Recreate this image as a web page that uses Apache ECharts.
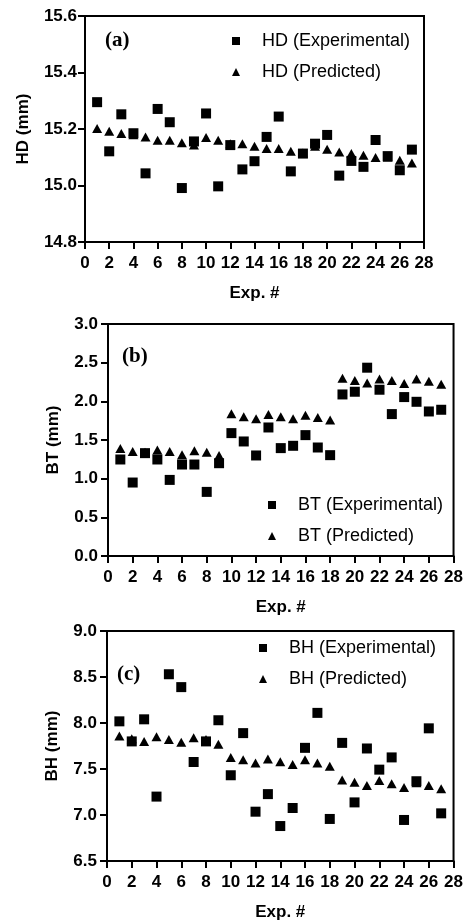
<!DOCTYPE html>
<html>
<head>
<meta charset="utf-8">
<script src="https://cdn.jsdelivr.net/npm/echarts@6/dist/echarts.min.js"></script>
<style>
  html, body { margin: 0; padding: 0; background: #fff; }
  #chart { width: 466px; height: 922px; }
</style>
</head>
<body>
<div id="chart"></div>
<script>
// experiment numbers
var expNo = [1,2,3,4,5,6,7,8,9,10,11,12,13,14,15,16,17,18,19,20,21,22,23,24,25,26,27]

// (a) HD
var hdExp = [15.295,15.121,15.252,15.185,15.043,15.271,15.224,14.991,15.156,15.255,14.997,15.143,15.057,15.086,15.172,15.244,15.050,15.113,15.148,15.179,15.035,15.087,15.066,15.161,15.104,15.054,15.127]
var hdPred = [15.202,15.192,15.184,15.180,15.172,15.160,15.160,15.151,15.143,15.170,15.160,15.148,15.148,15.139,15.131,15.131,15.121,15.115,15.139,15.128,15.119,15.113,15.107,15.099,15.100,15.089,15.080]

// (b) BT
var btExp = [1.248,0.95,1.33,1.248,0.984,1.183,1.183,0.829,1.20,1.589,1.481,1.30,1.662,1.395,1.425,1.563,1.403,1.304,2.089,2.124,2.435,2.15,1.835,2.055,1.994,1.869,1.891]
var btPred = [1.39,1.35,1.34,1.37,1.35,1.31,1.36,1.34,1.30,1.84,1.80,1.775,1.83,1.80,1.775,1.82,1.79,1.76,2.30,2.27,2.236,2.29,2.27,2.23,2.29,2.26,2.22]

// (c) BH
var bhExp = [8.018,7.80,8.04,7.20,8.53,8.39,7.576,7.80,8.03,7.432,7.89,7.036,7.227,6.88,7.076,7.73,8.11,6.957,7.784,7.137,7.723,7.493,7.626,6.946,7.367,7.942,7.018]
var bhPred = [7.86,7.83,7.80,7.85,7.82,7.79,7.84,7.82,7.77,7.626,7.60,7.565,7.61,7.58,7.55,7.60,7.565,7.53,7.38,7.356,7.32,7.374,7.34,7.30,7.35,7.32,7.284]

var panelTags = ['(a)', '(b)', '(c)']
var yNames = ['HD (mm)', 'BT (mm)', 'BH (mm)']
var xTicks = { min: 0, max: 28, interval: 2 }
var yTicks = [
  { min: 14.8, max: 15.6, interval: 0.2 },
  { min: 0, max: 3.0, interval: 0.5 },
  { min: 6.5, max: 9.0, interval: 0.5 }
]

var FONT = '"Liberation Sans", Arial, sans-serif'

function pairs (ys) {
  var out = []
  for (var i = 0; i < expNo.length; i++) {
    out.push([expNo[i], ys[i]])
  }
  return out
}

var grids = [
  { left: 85, top: 16, width: 339, height: 226 },
  { left: 108, top: 324, width: 347, height: 232 },
  { left: 107, top: 631, width: 347, height: 232 }
]
var yNameGap = [53, 46, 46]
var yLabelMargin = [8, 10, 10]

var xAxes = []
var yAxes = []
for (var g = 0; g < 3; g++) {
  grids[g].show = true
  grids[g].borderColor = '#000'
  grids[g].borderWidth = 2
  xAxes.push({
    gridIndex: g,
    type: 'value',
    min: xTicks.min,
    max: xTicks.max,
    interval: xTicks.interval,
    name: 'Exp. #',
    nameLocation: 'middle',
    nameGap: 43,
    nameTextStyle: { color: '#000', fontFamily: FONT, fontWeight: 'bold', fontSize: 17 },
    axisLine: { show: true, lineStyle: { color: '#000', width: 2 } },
    axisTick: { show: true, inside: false, length: 7, lineStyle: { color: '#000', width: 2 } },
    axisLabel: { color: '#000', fontFamily: FONT, fontWeight: 'bold', fontSize: 17, margin: 13 },
    splitLine: { show: false }
  })
  yAxes.push({
    gridIndex: g,
    type: 'value',
    min: yTicks[g].min,
    max: yTicks[g].max,
    interval: yTicks[g].interval,
    name: yNames[g],
    nameLocation: 'middle',
    nameGap: yNameGap[g],
    nameTextStyle: { color: '#000', fontFamily: FONT, fontWeight: 'bold', fontSize: 17 },
    axisLine: { show: true, lineStyle: { color: '#000', width: 2 } },
    axisTick: { show: true, inside: false, length: 7, lineStyle: { color: '#000', width: 2 } },
    axisLabel: {
      color: '#000', fontFamily: FONT, fontWeight: 'bold', fontSize: 17, margin: yLabelMargin[g],
      formatter: function (v) { return v.toFixed(1) }
    },
    splitLine: { show: false }
  })
}

function expSeries (name, g, ys) {
  return {
    name: name, type: 'scatter', xAxisIndex: g, yAxisIndex: g,
    symbol: 'rect', symbolSize: 10,
    itemStyle: { color: '#000', opacity: 1 },
    data: pairs(ys)
  }
}
function predSeries (name, g, ys) {
  return {
    name: name, type: 'scatter', xAxisIndex: g, yAxisIndex: g,
    symbol: 'triangle', symbolSize: [10, 9],
    itemStyle: { color: '#000', opacity: 1 },
    data: pairs(ys)
  }
}

function legendAt (left, top, prefix) {
  return {
    orient: 'vertical', left: left, top: top, padding: 0,
    itemWidth: 8, itemHeight: 8, itemGap: 13,
    selectedMode: false,
    textStyle: { color: '#000', fontFamily: FONT, fontSize: 18, padding: [0, 0, 0, 17] },
    data: [
      { name: prefix + ' (Experimental)', icon: 'rect' },
      { name: prefix + ' (Predicted)', icon: 'triangle' }
    ]
  }
}

var tagPos = [[105, 30], [122, 346], [117, 664]]
var titles = []
for (var t = 0; t < 3; t++) {
  titles.push({
    text: panelTags[t], left: tagPos[t][0], top: tagPos[t][1], padding: 0,
    textStyle: { color: '#000', fontFamily: '"Liberation Serif", "Times New Roman", serif', fontWeight: 'bold', fontSize: 21 }
  })
}

var option = {
  animation: false,
  backgroundColor: '#fff',
  title: titles,
  legend: [
    legendAt(232, 32, 'HD'),
    legendAt(268, 496, 'BT'),
    legendAt(259, 639, 'BH')
  ],
  grid: grids,
  xAxis: xAxes,
  yAxis: yAxes,
  series: [
    expSeries('HD (Experimental)', 0, hdExp),
    predSeries('HD (Predicted)', 0, hdPred),
    expSeries('BT (Experimental)', 1, btExp),
    predSeries('BT (Predicted)', 1, btPred),
    expSeries('BH (Experimental)', 2, bhExp),
    predSeries('BH (Predicted)', 2, bhPred)
  ]
}

var chart = echarts.init(document.getElementById('chart'), null, { renderer: 'canvas' })
chart.setOption(option)
</script>
</body>
</html>
